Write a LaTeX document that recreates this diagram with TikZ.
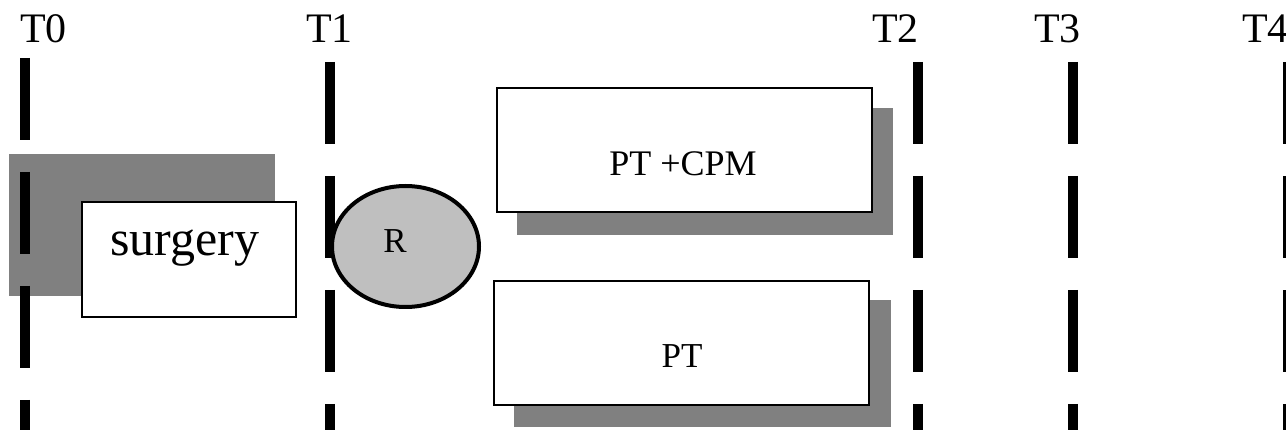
\documentclass[tikz,border=0pt]{standalone}
\usepackage{fontspec}
\setmainfont{Liberation Serif}
\usetikzlibrary{shapes.geometric}
\begin{document}
\begin{tikzpicture}[x=1pt,y=-1pt,
  shadowbox/.style={fill=black!50,draw=none,inner sep=0pt,rectangle},
  whitebox/.style={fill=white,draw=black,line width=1.8pt,inner sep=0pt,rectangle},
  timeline/.style={line width=10pt,line cap=butt,dash pattern=on 82pt off 32pt},
  tlabel/.style={anchor=base west,inner sep=0pt,font=\fontsize{42}{48}\selectfont},
  boxtext/.style={anchor=base,inner sep=0pt,font=\fontsize{36}{42}\selectfont}]
\useasboundingbox (0,0) rectangle (1286,430);
% shadows
\node[shadowbox,minimum width=266pt,minimum height=142pt] (surgshadow) at (142,225) {};
\node[shadowbox,minimum width=376pt,minimum height=127pt] (cpmshadow) at (705,171.5) {};
\node[shadowbox,minimum width=377pt,minimum height=127pt] (ptshadow) at (702.5,363.5) {};
% time lines
\coordinate (t0top) at (25,58);  \coordinate (t0bot) at (25,430);
\coordinate (t1top) at (330,62); \coordinate (t1bot) at (330,430);
\coordinate (t2top) at (918,62); \coordinate (t2bot) at (918,430);
\coordinate (t3top) at (1073,62); \coordinate (t3bot) at (1073,430);
\coordinate (t4top) at (1288,62); \coordinate (t4bot) at (1288,430);
\draw[timeline] (t0top) -- (t0bot);
\draw[timeline] (t1top) -- (t1bot);
\draw[timeline] (t2top) -- (t2bot);
\draw[timeline] (t3top) -- (t3bot);
\draw[timeline] (t4top) -- (t4bot);
% labels
\node[tlabel] (T0) at (20,43) {T0};
\node[tlabel] (T1) at (306,43) {T1};
\node[tlabel] (T2) at (872,43) {T2};
\node[tlabel] (T3) at (1034,43) {T3};
\node[tlabel] (T4) at (1242,43) {T4};
% boxes
\node[whitebox,line width=1.5pt,minimum width=214pt,minimum height=115pt] (surgbox) at (189,259.5) {};
\node[whitebox,minimum width=375pt,minimum height=124pt] (cpmbox) at (684.5,150) {};
\node[whitebox,minimum width=375pt,minimum height=124pt] (ptbox) at (681.5,343) {};
\node[ellipse,draw=black,line width=4pt,fill=black!25,minimum width=147pt,minimum height=121pt,inner sep=0pt] (R) at (405.5,246.5) {};
% texts
\node[boxtext,font=\fontsize{50}{56}\selectfont] (surgtext) at (185,256) {surgery};
\node[boxtext] (cpmtext) at (683,176) {PT +CPM};
\node[boxtext,font=\fontsize{35}{42}\selectfont] (pttext) at (682,368) {PT};
\node[boxtext,font=\fontsize{35}{42}\selectfont] (rtext) at (395,253) {R};
\end{tikzpicture}
\end{document}
